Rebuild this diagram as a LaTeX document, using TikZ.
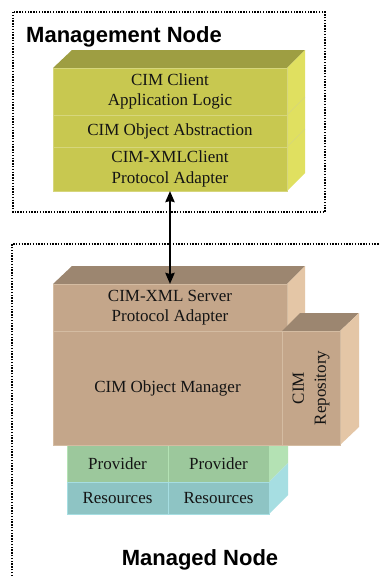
\documentclass[tikz,border=0pt]{standalone}
\usepackage{fontspec}
\setmainfont{Liberation Serif}
\newfontfamily\titlefont{Liberation Sans}
\usetikzlibrary{arrows.meta}

% layer colours: front, top and side faces
\definecolor{yfront}{HTML}{C8C850}
\definecolor{ytop}{HTML}{9E9E42}
\definecolor{yside}{HTML}{E0E060}
\definecolor{yline}{HTML}{D6D67C}
\definecolor{bfront}{HTML}{C4A68A}
\definecolor{btop}{HTML}{9C8670}
\definecolor{bside}{HTML}{E4C6A6}
\definecolor{bline}{HTML}{D4BCA2}
\definecolor{gfront}{HTML}{9CC89C}
\definecolor{gside}{HTML}{B4E2B4}
\definecolor{cfront}{HTML}{8EC4C4}
\definecolor{cside}{HTML}{A6DEE2}
\definecolor{ink}{HTML}{141414}

\tikzset{
  layer/.style={anchor=north west, inner sep=0pt, outer sep=0pt,
    text=ink, align=center, font=\fontsize{17}{20.5}\selectfont},
  nodebox/.style={draw=black, line width=1.4pt, dash pattern=on 1.4pt off 1.4pt},
  title/.style={font=\titlefont\bfseries\fontsize{22}{26}\selectfont, text=black, inner sep=0pt},
  link/.style={line width=2.6pt, {Stealth[length=11pt,width=9pt,inset=1pt]}-{Stealth[length=11pt,width=9pt,inset=1pt]}}
}

\begin{document}
\begin{tikzpicture}[x=1pt, y=-1pt]
\useasboundingbox (0,0) rectangle (380,576);
\fill[white] (0,0) rectangle (380,576);

% ---------------- Management node ----------------
\draw[nodebox] (13,12) rectangle (325,212);
\node[title, anchor=base west] (mgmttitle) at (26,42) {Management Node};

% yellow client stack: top and side faces
\fill[ytop] (53,68) -- (72,50) -- (305,50) -- (287,68) -- cycle;
\fill[yside] (287,68) -- (305,50) -- (305,173) -- (287,191) -- cycle;
\draw[yline, line width=0.6pt] (287,115) -- (305,97) (287,147) -- (305,129);

\node[layer, fill=yfront, draw=yline, line width=0.6pt, minimum width=234pt, minimum height=47pt]
  (applogic) at (53,68) {CIM Client\\Application Logic};
\node[layer, fill=yfront, draw=yline, line width=0.6pt, minimum width=234pt, minimum height=32pt]
  (objabs) at (53,115) {CIM Object Abstraction};
\node[layer, fill=yfront, draw=yline, line width=0.6pt, minimum width=234pt, minimum height=44pt]
  (clientadapter) at (53,147) {CIM-XMLClient\\Protocol Adapter};

% ---------------- Managed node ----------------
\draw[nodebox] (12,576) -- (12,244) -- (380,244);

% provider / resources stack: side faces
\fill[gside] (269,445) -- (288,426) -- (288,463) -- (269,482) -- cycle;
\fill[cside] (269,482) -- (288,463) -- (288,495) -- (269,514) -- cycle;

\node[layer, fill=gfront, draw=gside, line width=0.5pt, minimum width=101pt, minimum height=37pt]
  (prov1) at (67,445) {Provider};
\node[layer, fill=gfront, draw=gside, line width=0.5pt, minimum width=101pt, minimum height=37pt]
  (prov2) at (168,445) {Provider};
\node[layer, fill=cfront, draw=cside, line width=0.5pt, minimum width=101pt, minimum height=32pt]
  (res1) at (67,482) {Resources};
\node[layer, fill=cfront, draw=cside, line width=0.5pt, minimum width=101pt, minimum height=32pt]
  (res2) at (168,482) {Resources};

% brown server stack
\fill[btop] (53,284) -- (72,266) -- (305,266) -- (287,284) -- cycle;
\fill[bside] (287,284) -- (305,266) -- (305,313) -- (287,331) -- cycle;

\node[layer, fill=bfront, draw=bline, line width=0.6pt, minimum width=229pt, minimum height=114pt]
  (cimom) at (53,331) {CIM Object Manager};
\node[layer, fill=bfront, draw=bline, line width=0.6pt, minimum width=234pt, minimum height=47pt]
  (serveradapter) at (53,284) {CIM-XML Server\\Protocol Adapter};

% repository block
\fill[btop] (282,331) -- (300,313) -- (359,313) -- (340,331) -- cycle;
\fill[bside] (340,331) -- (359,313) -- (359,427) -- (340,445) -- cycle;
\node[layer, fill=bfront, draw=bline, line width=0.6pt, minimum width=58pt, minimum height=114pt]
  (repobox) at (282,331) {};
\node[text=ink, align=center, rotate=90, inner sep=0pt,
  font=\fontsize{17}{22}\selectfont] (repo) at (repobox.center) {CIM\\Repository};

\node[title, anchor=base] (managedtitle) at (200,565) {Managed Node};

% request / response link between the two nodes
\draw[link] (clientadapter.south) -- (serveradapter.north);
\end{tikzpicture}
\end{document}
